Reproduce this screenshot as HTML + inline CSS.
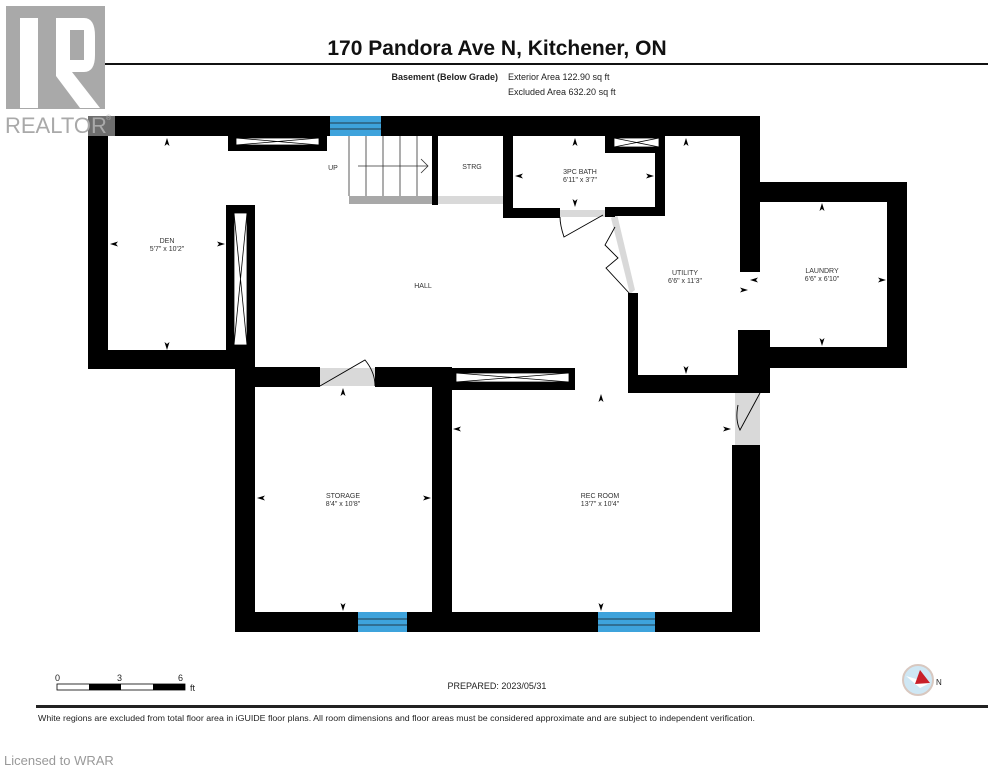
<!DOCTYPE html>
<html><head><meta charset="utf-8"><style>
body{margin:0;background:#fff;width:995px;height:768px;overflow:hidden}
svg{display:block}
text{font-family:"Liberation Sans",sans-serif}
</style></head><body>
<svg width="995" height="768" viewBox="0 0 995 768">
<!-- header -->
<text x="497" y="55" font-size="21" font-weight="bold" text-anchor="middle" fill="#111">170 Pandora Ave N, Kitchener, ON</text>
<rect x="36" y="63" width="952" height="2" fill="#111"/>
<text x="498" y="80" font-size="9" font-weight="bold" text-anchor="end" fill="#222">Basement (Below Grade)</text>
<text x="508" y="80" font-size="9" fill="#222">Exterior Area 122.90 sq ft</text>
<text x="508" y="95" font-size="9" fill="#222">Excluded Area 632.20 sq ft</text>
<!-- gray door gaps -->
<g fill="#d9d9d9">
<rect x="320" y="368" width="55" height="18"/>
<rect x="560" y="210" width="45" height="7"/>
<rect x="735" y="393" width="25" height="52"/>
<rect x="438" y="196" width="65" height="8"/>
<polygon points="611,218 617,214 635,290 630,294"/>
</g>
<!-- walls -->
<g fill="#000">
<rect x="88" y="116" width="672" height="20"/>
<rect x="88" y="116" width="20" height="252"/>
<rect x="88" y="350" width="167" height="19"/>
<rect x="226" y="205" width="29" height="163"/>
<rect x="235" y="367" width="20" height="265"/>
<rect x="235" y="367" width="85" height="20"/>
<rect x="375" y="367" width="75" height="20"/>
<rect x="235" y="612" width="525" height="20"/>
<rect x="432" y="367" width="20" height="265"/>
<rect x="450" y="368" width="125" height="22"/>
<rect x="732" y="445" width="28" height="187"/>
<rect x="628" y="375" width="132" height="18"/>
<rect x="628" y="293" width="10" height="100"/>
<rect x="740" y="116" width="20" height="156"/>
<rect x="740" y="182" width="167" height="20"/>
<rect x="887" y="182" width="20" height="186"/>
<rect x="740" y="347" width="167" height="21"/>
<rect x="738" y="330" width="32" height="63"/>
<rect x="503" y="136" width="10" height="82"/>
<rect x="503" y="208" width="57" height="10"/>
<rect x="605" y="207" width="60" height="9"/>
<rect x="655" y="136" width="10" height="80"/>
<rect x="605" y="136" width="60" height="17"/>
<rect x="605" y="207" width="10" height="10"/>
<rect x="228" y="136" width="99" height="15"/>
<rect x="432" y="136" width="6" height="69"/>
</g>
<!-- closet interiors -->
<g fill="#fff" stroke="#000" stroke-width="0.8">
<rect x="236" y="138" width="83" height="7"/>
<rect x="614" y="138" width="45" height="9"/>
<rect x="456" y="373" width="113" height="9"/>
<rect x="234" y="213" width="13" height="132"/>
</g>
<g stroke="#000" stroke-width="0.8" fill="none">
<path d="M236 138 L319 145 M236 145 L319 138"/>
<path d="M614 138 L659 147 M614 147 L659 138"/>
<path d="M456 373 L569 382 M456 382 L569 373"/>
<path d="M234 213 L247 345 M247 213 L234 345"/>
</g>
<!-- windows -->
<g fill="#3ea3dc">
<rect x="330" y="116" width="51" height="20"/>
<rect x="358" y="612" width="49" height="20"/>
<rect x="598" y="612" width="57" height="20"/>
</g>
<g stroke="#1a1a1a" stroke-width="0.8">
<path d="M330 123 H381 M330 129 H381"/>
<path d="M358 619 H407 M358 625 H407"/>
<path d="M598 619 H655 M598 625 H655"/>
</g>
<!-- stairs -->
<rect x="349" y="196" width="83" height="8" fill="#a8a8a8"/>
<g stroke="#333" stroke-width="0.8" fill="none">
<path d="M349 136 V196 M366 136 V196 M383 136 V196 M400 136 V196 M417 136 V196"/>
<path d="M358 166 H428 M421 159 L428 166 L421 173"/>
</g>
<!-- doors swings -->
<g stroke="#000" stroke-width="0.9" fill="none">
<path d="M320 386 L365 360 Q375 372 375 386"/>
<path d="M603 215 L564 237 Q560 225 560 217"/>
<path d="M615 227 L605 245 L618 258 L606 268 L630 294"/>
<path d="M760 393 L740 430 Q735 420 738 405"/>
</g>
<!-- realtor logo -->
<rect x="6" y="6" width="99" height="103" fill="#a9a9a9"/>
<rect x="20" y="18" width="18" height="90" fill="#fff"/>
<path d="M56 18 H84 Q95 18 95 36 V55 Q95 72 84 72 H72 L100 108 H80 L56 76 Z" fill="#fff"/>
<rect x="70" y="30" width="14" height="30" fill="#a9a9a9"/>
<rect x="88" y="116" width="27" height="20" fill="#6e6e6e"/>
<text x="5" y="133" font-size="22" fill="#a9a9a9">REALTOR</text>
<text x="106" y="120" font-size="7" fill="#a9a9a9">®</text>
<!-- labels -->
<g font-size="7" fill="#333" text-anchor="middle">
<text x="333" y="170">UP</text>
<text x="472" y="169">STRG</text>
<text x="580" y="174">3PC BATH</text><text x="580" y="182">6'11" x 3'7"</text>
<text x="167" y="243">DEN</text><text x="167" y="251">5'7" x 10'2"</text>
<text x="423" y="288">HALL</text>
<text x="685" y="275">UTILITY</text><text x="685" y="283">6'6" x 11'3"</text>
<text x="822" y="273">LAUNDRY</text><text x="822" y="281">6'6" x 6'10"</text>
<text x="343" y="498">STORAGE</text><text x="343" y="506">8'4" x 10'8"</text>
<text x="600" y="498">REC ROOM</text><text x="600" y="506">13'7" x 10'4"</text>
</g>
<!-- arrow markers -->
<g fill="#000">
<path d="M167 138 l-2.5 8 l2.5 -2 l2.5 2z"/>
<path d="M167 350 l-2.5 -8 l2.5 2 l2.5 -2z"/>
<path d="M110 244 l8 -2.5 l-2 2.5 l2 2.5z"/>
<path d="M225 244 l-8 -2.5 l2 2.5 l-2 2.5z"/>
<path d="M575 138 l-2.5 8 l2.5 -2 l2.5 2z"/>
<path d="M575 207 l-2.5 -8 l2.5 2 l2.5 -2z"/>
<path d="M515 176 l8 -2.5 l-2 2.5 l2 2.5z"/>
<path d="M654 176 l-8 -2.5 l2 2.5 l-2 2.5z"/>
<path d="M686 138 l-2.5 8 l2.5 -2 l2.5 2z"/>
<path d="M686 374 l-2.5 -8 l2.5 2 l2.5 -2z"/>
<path d="M614 213 l8 -2.5 l-2 2.5 l2 2.5z"/>
<path d="M748 290 l-8 -2.5 l2 2.5 l-2 2.5z"/>
<path d="M822 203 l-2.5 8 l2.5 -2 l2.5 2z"/>
<path d="M822 346 l-2.5 -8 l2.5 2 l2.5 -2z"/>
<path d="M750 280 l8 -2.5 l-2 2.5 l2 2.5z"/>
<path d="M886 280 l-8 -2.5 l2 2.5 l-2 2.5z"/>
<path d="M343 388 l-2.5 8 l2.5 -2 l2.5 2z"/>
<path d="M343 611 l-2.5 -8 l2.5 2 l2.5 -2z"/>
<path d="M257 498 l8 -2.5 l-2 2.5 l2 2.5z"/>
<path d="M431 498 l-8 -2.5 l2 2.5 l-2 2.5z"/>
<path d="M601 394 l-2.5 8 l2.5 -2 l2.5 2z"/>
<path d="M601 611 l-2.5 -8 l2.5 2 l2.5 -2z"/>
<path d="M453 429 l8 -2.5 l-2 2.5 l2 2.5z"/>
<path d="M731 429 l-8 -2.5 l2 2.5 l-2 2.5z"/>
</g>
<!-- footer -->
<g font-size="9" fill="#222">
<text x="55" y="681">0</text><text x="117" y="681">3</text><text x="178" y="681">6</text>
<text x="190" y="691">ft</text>
</g>
<rect x="57" y="684" width="128" height="6" fill="#fff" stroke="#000" stroke-width="0.8"/>
<rect x="89" y="684" width="32" height="6" fill="#000"/><rect x="153" y="684" width="32" height="6" fill="#000"/>
<text x="497" y="689" font-size="9" text-anchor="middle" fill="#222">PREPARED: 2023/05/31</text>
<circle cx="918" cy="680" r="15" fill="#cfe7f4" stroke="#d8c8c0" stroke-width="2"/>
<polygon points="906,676 930,683 920,688" fill="#fff"/>
<polygon points="920,670 930,683 915,684" fill="#c8202a"/>
<text x="936" y="685" font-size="8" fill="#222">N</text>
<rect x="36" y="705" width="952" height="3" fill="#222"/>
<text x="38" y="721" font-size="8" fill="#222" textLength="717" lengthAdjust="spacingAndGlyphs">White regions are excluded from total floor area in iGUIDE floor plans. All room dimensions and floor areas must be considered approximate and are subject to independent verification.</text>
<text x="4" y="765" font-size="13" fill="#999">Licensed to WRAR</text>
</svg>
</body></html>
